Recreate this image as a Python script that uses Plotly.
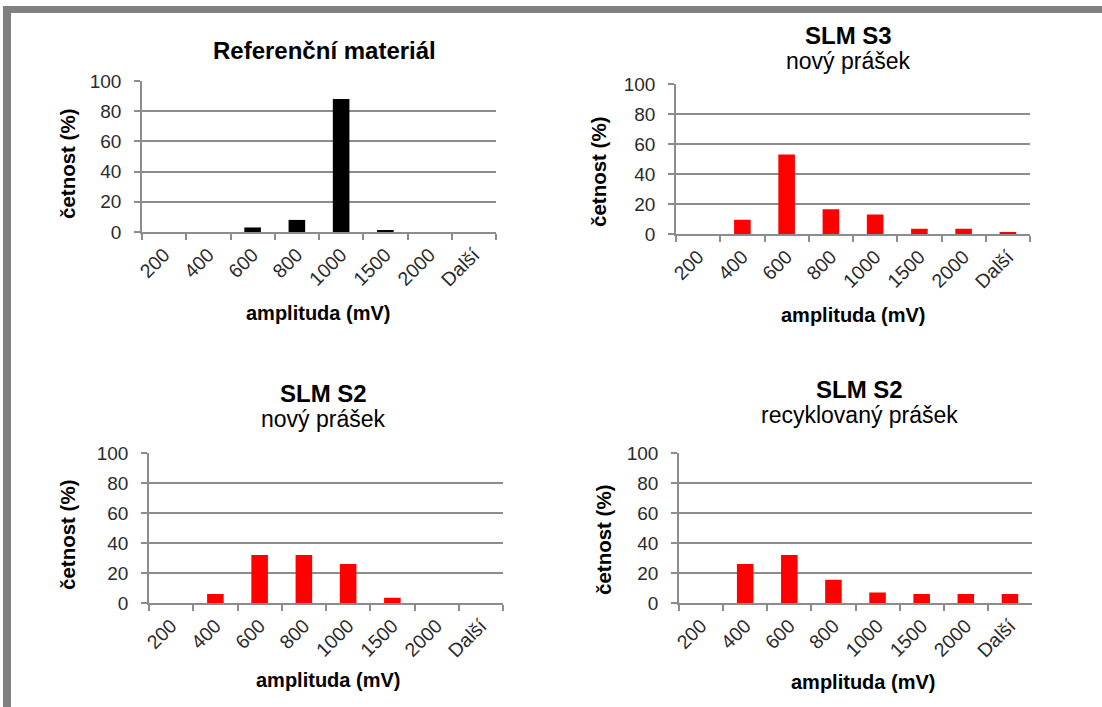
import plotly.graph_objects as go

# Amplitude classes (mV) and relative frequency (%) for each sample
categories = ["200", "400", "600", "800", "1000", "1500", "2000", "Další"]
ref_material = [0, 0, 3, 8, 88, 1, 0, 0]
slm_s3_new = [0, 9.5, 53, 16.5, 13, 3.5, 3.5, 1]
slm_s2_new = [0, 6, 32, 32, 26, 3.5, 0, 0]
slm_s2_recycled = [0, 26, 32, 15.5, 7, 6, 6, 6]

W, H = 1102, 707
FONT = "Liberation Sans, Arial, sans-serif"
GRID = "#8c8c8c"
TICK_TXT = "#2b2b2b"

# panel boxes in pixels: (left, right, top, bottom)
panels = [
    dict(data=ref_material, color="#000000", box=(142, 496, 81, 232),
         title=[("<b>Referenční materiál</b>", 324, 50, 24)],
         ytitle=(67, 164), xtitle=(318, 313)),
    dict(data=slm_s3_new, color="#ff0000", box=(676, 1030, 84, 234),
         title=[("<b>SLM S3</b>", 848, 35, 24), ("nový prášek", 848, 61, 23)],
         ytitle=(599, 172), xtitle=(853, 315)),
    dict(data=slm_s2_new, color="#ff0000", box=(149, 503, 453, 603),
         title=[("<b>SLM S2</b>", 323, 393, 24), ("nový prášek", 323, 419, 23)],
         ytitle=(67, 535), xtitle=(328, 680)),
    dict(data=slm_s2_recycled, color="#ff0000", box=(679, 1032, 453, 603),
         title=[("<b>SLM S2</b>", 859, 390, 24), ("recyklovaný prášek", 859, 415, 23)],
         ytitle=(603, 540), xtitle=(863, 682)),
]

fig = go.Figure()
annotations = []
layout_axes = {}

for i, p in enumerate(panels, start=1):
    left, right, top, bottom = p["box"]
    xa = "x" if i == 1 else f"x{i}"
    ya = "y" if i == 1 else f"y{i}"
    fig.add_trace(go.Bar(
        x=categories, y=p["data"], marker=dict(color=p["color"], line=dict(width=0)),
        xaxis=xa, yaxis=ya, showlegend=False,
    ))
    xkey = "xaxis" if i == 1 else f"xaxis{i}"
    ykey = "yaxis" if i == 1 else f"yaxis{i}"
    layout_axes[xkey] = dict(
        domain=[left / W, right / W], anchor=ya, type="category", automargin=False,
        range=[-0.5, 7.5], tickson="boundaries", ticks="outside", ticklen=6,
        tickcolor=GRID, tickwidth=1.5, showline=True, linecolor=GRID, linewidth=1.5,
        showgrid=False, tickangle=-45, fixedrange=True, ticklabelstandoff=2,
        tickfont=dict(family=FONT, size=19.5, color=TICK_TXT),
    )
    layout_axes[ykey] = dict(
        domain=[1 - bottom / H, 1 - top / H], anchor=xa, range=[0, 100], automargin=False,
        tickvals=[0, 20, 40, 60, 80, 100], ticks="outside", ticklen=6,
        tickcolor=GRID, tickwidth=1.5, showline=True, linecolor=GRID, linewidth=1.5,
        showgrid=True, gridcolor=GRID, gridwidth=1.5, zeroline=False,
        ticklabelstandoff=9,
        tickfont=dict(family=FONT, size=19, color=TICK_TXT), fixedrange=True,
    )
    for text, cx, cy, size in p["title"]:
        annotations.append(dict(
            text=text, x=cx / W, y=1 - cy / H, xref="paper", yref="paper",
            showarrow=False, xanchor="center", yanchor="middle",
            font=dict(family=FONT, size=size, color="#000000"),
        ))
    annotations.append(dict(
        text="<b>četnost (%)</b>", x=p["ytitle"][0] / W, y=1 - p["ytitle"][1] / H,
        xref="paper", yref="paper", showarrow=False, textangle=-90,
        xanchor="center", yanchor="middle",
        font=dict(family=FONT, size=20.5, color="#000000"),
    ))
    annotations.append(dict(
        text="<b>amplituda (mV)</b>", x=p["xtitle"][0] / W, y=1 - p["xtitle"][1] / H,
        xref="paper", yref="paper", showarrow=False,
        xanchor="center", yanchor="middle",
        font=dict(family=FONT, size=20, color="#000000"),
    ))

# grey page frame along the top and left edges
frame = "#808080"
shapes = [
    dict(type="rect", xref="paper", yref="paper", x0=3 / W, x1=1, y0=1 - 13 / H, y1=1 - 6 / H,
         fillcolor=frame, line=dict(width=0), layer="below"),
    dict(type="rect", xref="paper", yref="paper", x0=3 / W, x1=11 / W, y0=0, y1=1 - 6 / H,
         fillcolor=frame, line=dict(width=0), layer="below"),
]

fig.update_layout(
    width=W, height=H, margin=dict(l=0, r=0, t=0, b=0, autoexpand=False),
    paper_bgcolor="#ffffff", plot_bgcolor="#ffffff",
    bargap=0.625, annotations=annotations, shapes=shapes,
    font=dict(family=FONT), **layout_axes,
)

fig.write_html("out.html", config={"displayModeBar": False})
